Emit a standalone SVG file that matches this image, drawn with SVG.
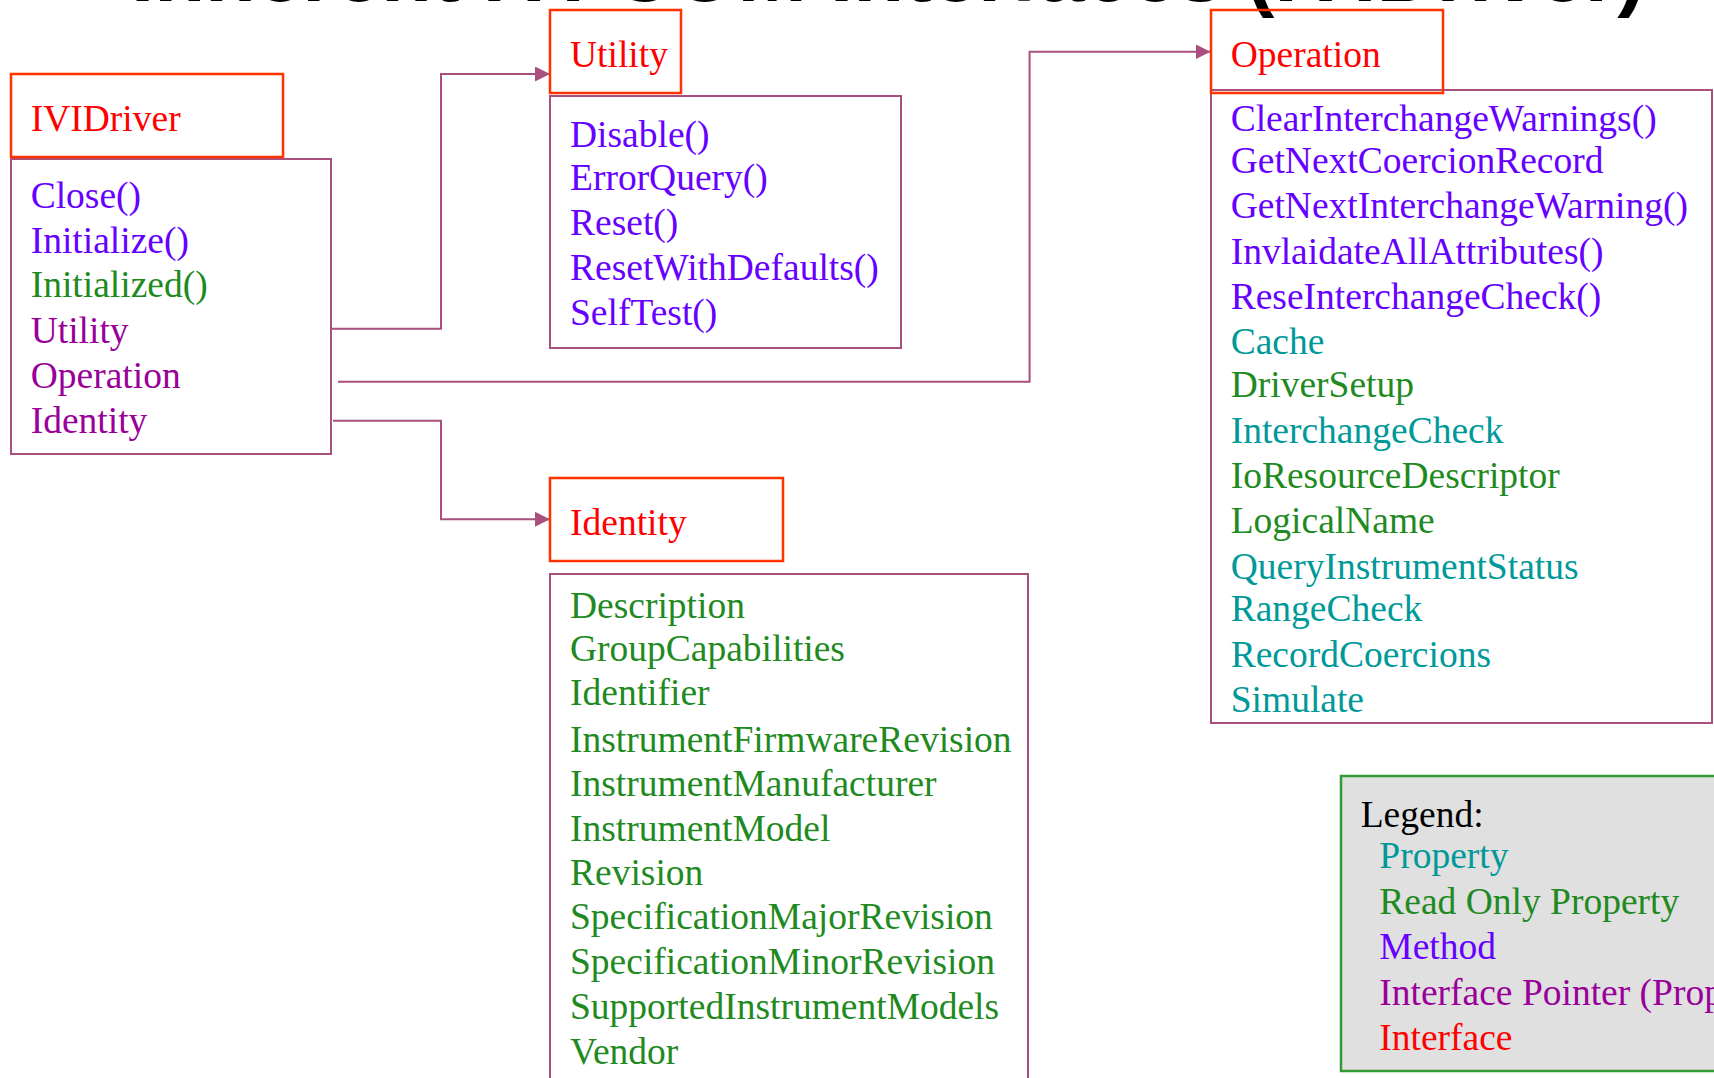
<svg xmlns="http://www.w3.org/2000/svg" width="1714" height="1078" viewBox="0 0 1714 1078">
<style>
  text { font-family: "Liberation Serif", "Times New Roman", serif; font-size: 37.5px; }
  .title { font-family: "Liberation Sans", Arial, sans-serif; font-weight: bold; font-size: 80px; fill: #000; }
  .hdr { fill: #fff; stroke: #FF3300; stroke-width: 2.5; }
  .body { fill: none; stroke: #A94F7E; stroke-width: 2; }
  .iface { fill: #FF0000; }
  .meth { fill: #6600FF; }
  .ro { fill: #1F8A1F; }
  .prop { fill: #009999; }
  .ptr { fill: #990099; }
  .conn { fill: none; stroke: #A94F7E; stroke-width: 2; marker-end: url(#arrow); }
</style>
<defs>
  <marker id="arrow" markerUnits="userSpaceOnUse" markerWidth="15" markerHeight="15" refX="15" refY="7.5" orient="auto">
    <path d="M0,0 L15,7.5 L0,15 z" fill="#A94F7E"/>
  </marker>
</defs>
<rect width="1714" height="1078" fill="#fff"/>
<text class="title" x="131" y="1" textLength="1514" lengthAdjust="spacingAndGlyphs">Inherent IVI-COM Interfaces (IVIDriver)</text>

<g id="connectors">
  <path class="conn" d="M331,328.7 H441 V74 H550"/>
  <path class="conn" d="M338,381.7 H1029.6 V51.7 H1210.5"/>
  <path class="conn" d="M333,420.7 H441 V519.3 H550"/>
</g>

<g id="ividriver">
  <rect class="body" x="11" y="159" width="320" height="295"/>
  <rect class="hdr" x="11" y="74" width="272" height="83"/>
  <text class="iface" x="30.7" y="130.7">IVIDriver</text>
  <text class="meth" x="30.7" y="208.3">Close()</text>
  <text class="meth" x="30.7" y="252.7">Initialize()</text>
  <text class="ro" x="30.7" y="297.3">Initialized()</text>
  <text class="ptr" x="30.7" y="342.7">Utility</text>
  <text class="ptr" x="30.7" y="388.3">Operation</text>
  <text class="ptr" x="30.7" y="432.7">Identity</text>
</g>

<g id="utility">
  <rect class="body" x="550" y="96" width="351" height="252"/>
  <rect class="hdr" x="550" y="10" width="131" height="83"/>
  <text class="iface" x="570" y="66.7">Utility</text>
  <text class="meth" x="570" y="146.7">Disable()</text>
  <text class="meth" x="570" y="190">ErrorQuery()</text>
  <text class="meth" x="570" y="235">Reset()</text>
  <text class="meth" x="570" y="280">ResetWithDefaults()</text>
  <text class="meth" x="570" y="325">SelfTest()</text>
</g>

<g id="operation">
  <rect class="body" x="1211" y="90" width="501" height="633"/>
  <rect class="hdr" x="1211" y="10" width="232" height="83" fill="none" style="fill:none"/>
  <text class="iface" x="1230.7" y="66.7">Operation</text>
  <text class="meth" x="1230.7" y="130.7">ClearInterchangeWarnings()</text>
  <text class="meth" x="1230.7" y="173.3">GetNextCoercionRecord</text>
  <text class="meth" x="1230.7" y="218.3">GetNextInterchangeWarning()</text>
  <text class="meth" x="1230.7" y="264">InvlaidateAllAttributes()</text>
  <text class="meth" x="1230.7" y="309.3">ReseInterchangeCheck()</text>
  <text class="prop" x="1230.7" y="354">Cache</text>
  <text class="ro" x="1230.7" y="396.7">DriverSetup</text>
  <text class="prop" x="1230.7" y="442.7">InterchangeCheck</text>
  <text class="ro" x="1230.7" y="488.3">IoResourceDescriptor</text>
  <text class="ro" x="1230.7" y="533.3">LogicalName</text>
  <text class="prop" x="1230.7" y="579">QueryInstrumentStatus</text>
  <text class="prop" x="1230.7" y="620.7">RangeCheck</text>
  <text class="prop" x="1230.7" y="666.7">RecordCoercions</text>
  <text class="prop" x="1230.7" y="711.7">Simulate</text>
</g>

<g id="identity">
  <rect class="body" x="550" y="574" width="478" height="530"/>
  <rect class="hdr" x="550" y="478" width="233" height="83"/>
  <text class="iface" x="570" y="535">Identity</text>
  <text class="ro" x="570" y="617.7">Description</text>
  <text class="ro" x="570" y="661">GroupCapabilities</text>
  <text class="ro" x="570" y="705.2">Identifier</text>
  <text class="ro" x="570" y="751.7">InstrumentFirmwareRevision</text>
  <text class="ro" x="570" y="796.2">InstrumentManufacturer</text>
  <text class="ro" x="570" y="840.8">InstrumentModel</text>
  <text class="ro" x="570" y="884.5">Revision</text>
  <text class="ro" x="570" y="929">SpecificationMajorRevision</text>
  <text class="ro" x="570" y="974.4">SpecificationMinorRevision</text>
  <text class="ro" x="570" y="1018.9">SupportedInstrumentModels</text>
  <text class="ro" x="570" y="1064.3">Vendor</text>
</g>

<g id="legend">
  <rect x="1341" y="776" width="400" height="295" fill="#E0E0E0" stroke="#339933" stroke-width="2.5"/>
  <text x="1360.7" y="826.7" fill="#000">Legend:</text>
  <text class="prop" x="1379.3" y="868.3">Property</text>
  <text class="ro" x="1379.3" y="914">Read Only Property</text>
  <text class="meth" x="1379.3" y="959.3">Method</text>
  <text class="ptr" x="1379.3" y="1005">Interface Pointer (Property)</text>
  <text class="iface" x="1379.3" y="1050">Interface</text>
</g>
</svg>
